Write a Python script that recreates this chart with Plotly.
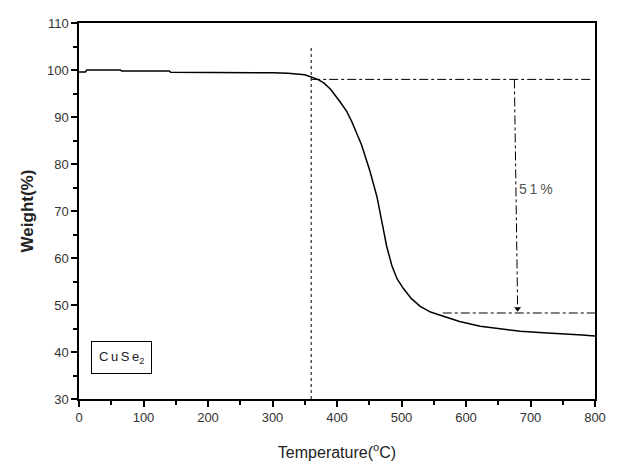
import plotly.graph_objects as go

# TGA curve
temp = [0, 10, 12, 64, 66, 140, 142, 200, 300, 324, 340, 350, 360, 370, 379,
        390, 405, 415, 423, 438, 451, 462, 469, 477, 485, 493, 503, 515, 529,
        545, 565, 590, 622, 650, 684, 720, 751, 780, 800]
weight = [99.6, 99.6, 100.0, 100.0, 99.8, 99.8, 99.5, 99.5, 99.4, 99.3, 99.2,
          99.0, 98.5, 98.0, 97.3, 95.9, 93.2, 91.2, 89.0, 84.1, 78.5, 73.0,
          68.1, 62.5, 58.4, 55.6, 53.5, 51.4, 49.7, 48.5, 47.6, 46.5, 45.5,
          45.0, 44.4, 44.1, 43.9, 43.6, 43.4]

onset_temp = 360
upper_level = 98.0
lower_level = 48.3
loss_x = 678
loss_label = "5\u20091\u2009%"
sample_label = "C\u2009u\u2009S\u2009e<sub>2</sub>"

x_ticks = [0, 100, 200, 300, 400, 500, 600, 700, 800]
y_ticks = [30, 40, 50, 60, 70, 80, 90, 100, 110]

font_family = 'Liberation Sans, Arial'

fig = go.Figure()

fig.add_trace(go.Scatter(x=temp, y=weight, mode='lines',
                         line=dict(color='black', width=1.5), hoverinfo='skip'))

# arrow head at the bottom of the loss marker
fig.add_trace(go.Scatter(x=[loss_x + 2], y=[lower_level + 0.9], mode='markers',
                         marker=dict(symbol='triangle-down', size=6, color='black'),
                         hoverinfo='skip'))

ref_line = dict(color='black', width=1)
fig.add_shape(type='line', x0=onset_temp, x1=onset_temp, y0=30, y1=105.3,
              line=dict(ref_line, dash='dot'))
fig.add_shape(type='line', x0=onset_temp, x1=795, y0=upper_level, y1=upper_level,
              line=dict(ref_line, dash='dashdot'))
fig.add_shape(type='line', x0=564, x1=800, y0=lower_level, y1=lower_level,
              line=dict(ref_line, dash='dashdot'))
fig.add_shape(type='line', x0=loss_x - 3, x1=loss_x + 2, y0=upper_level, y1=lower_level + 1.5,
              line=dict(ref_line, dash='dashdot'))

fig.add_annotation(x=loss_x + 1, y=74.7, text=loss_label, showarrow=False,
                   xanchor='left', font=dict(family=font_family, size=14, color='#555'))

fig.add_annotation(x=18, y=38.8, xanchor='left', text=sample_label, showarrow=False,
                   font=dict(family=font_family, size=13, color='#222'),
                   bordercolor='black', borderwidth=1, borderpad=7, bgcolor='white')

axis_common = dict(showline=True, linecolor='black', linewidth=1.5, mirror=True,
                   showgrid=False, zeroline=False, ticks='outside', ticklen=6,
                   tickwidth=1.5, tickcolor='black',
                   tickfont=dict(family=font_family, size=13, color='#333'),
                   minor=dict(ticks='outside', ticklen=4, tickwidth=1.5, tickcolor='black'))

fig.update_xaxes(axis_common, range=[0, 800], tickvals=x_ticks, minor_dtick=50,
                 title=dict(text='Temperature(<sup>o</sup>C)', standoff=22,
                            font=dict(family=font_family, size=16, color='#222')))
fig.update_yaxes(axis_common, range=[30, 110], tickvals=y_ticks, minor_dtick=5,
                 title=dict(text='<b>Weight(%)</b>', standoff=9,
                            font=dict(family=font_family, size=17, color='#222')))

# page body adds an 8px margin, so the figure is drawn 8px smaller
fig.update_layout(width=612, height=459, showlegend=False,
                  margin=dict(l=71, r=25, t=8, b=68),
                  plot_bgcolor='white', paper_bgcolor='white')

fig.write_html("out.html")
